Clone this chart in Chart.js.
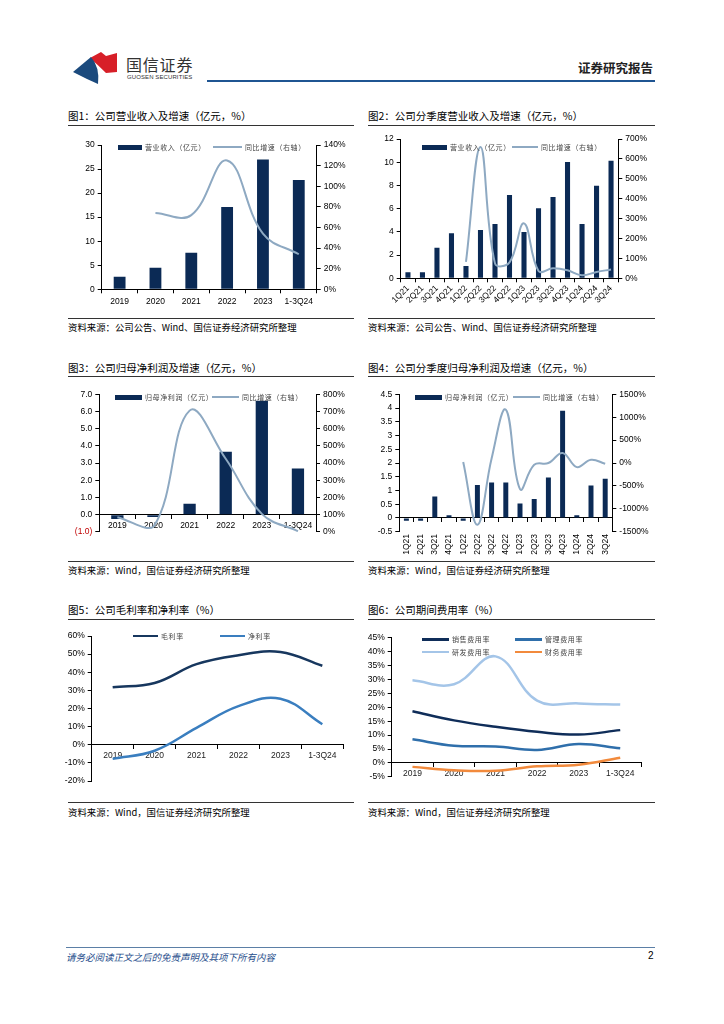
<!DOCTYPE html>
<html><head><meta charset="utf-8">
<script src="https://cdn.jsdelivr.net/npm/chart.js@4.4.1/dist/chart.umd.min.js"></script>
<style>
html,body{margin:0;padding:0;background:#fff}
body{width:724px;height:1024px;position:relative;overflow:hidden;font-family:"Noto Sans CJK SC","Noto Sans",sans-serif;color:#000}
.a{position:absolute;white-space:nowrap}
.title{font-size:10.5px;line-height:12px}
.src{font-size:9.4px;line-height:11px}
.rule{position:absolute;height:1px;background:#333}
.lgt{position:absolute;white-space:nowrap;font-size:7px;line-height:9px;color:#444;letter-spacing:0.6px}
canvas{position:absolute}
</style>
</head><body>

<!-- header -->
<svg class="a" style="left:60px;top:45px" width="70" height="45" viewBox="60 45 70 45">
  <path d="M90 58 L101 52 L106 56 L117 53 L117 72 L106 73 Q99 66 90 58 Z" fill="#d71f28"/>
  <path d="M73 72 L91 57 Q100 67 98 84 L87 79 Z" fill="#1b4a7d"/>
</svg>
<div class="a" style="left:126px;top:54px;font-size:16px;line-height:20px;color:#333;letter-spacing:0.8px">国信证券</div>
<div class="a" style="left:127px;top:74px;font-family:'Liberation Sans',Arial,sans-serif;font-size:6px;line-height:7px;color:#333;letter-spacing:0.1px">GUOSEN SECURITIES</div>
<div class="a" style="left:578px;top:60px;font-size:12.5px;line-height:15px;font-weight:bold;color:#222">证券研究报告</div>
<div class="a" style="left:207px;top:80px;width:448px;height:2px;background:#1f5592"></div>

<!-- chart 1 -->
<div class="a title" style="left:68px;top:110px">图1：公司营业收入及增速（亿元，%）</div>
<div class="rule" style="left:68px;top:125px;width:286px"></div>
<canvas id="c1" width="300" height="180" style="left:60px;top:135px;width:300px;height:180px"></canvas>
<div class="rule" style="left:68px;top:318px;width:286px"></div>
<div class="a src" style="left:68px;top:322px">资料来源：公司公告、Wind、国信证券经济研究所整理</div>

<!-- chart 2 -->
<div class="a title" style="left:368px;top:110px">图2：公司分季度营业收入及增速（亿元，%）</div>
<div class="rule" style="left:368px;top:125px;width:287px"></div>
<canvas id="c2" width="310" height="185" style="left:360px;top:130px;width:310px;height:185px"></canvas>
<div class="rule" style="left:368px;top:318px;width:287px"></div>
<div class="a src" style="left:368px;top:322px">资料来源：公司公告、Wind、国信证券经济研究所整理</div>

<!-- chart 3 -->
<div class="a title" style="left:68px;top:362px">图3：公司归母净利润及增速（亿元，%）</div>
<div class="rule" style="left:68px;top:376px;width:286px"></div>
<canvas id="c3" width="300" height="160" style="left:60px;top:380px;width:300px;height:160px"></canvas>
<div class="rule" style="left:68px;top:561px;width:286px"></div>
<div class="a src" style="left:68px;top:565px">资料来源：Wind，国信证券经济研究所整理</div>

<!-- chart 4 -->
<div class="a title" style="left:368px;top:362px">图4：公司分季度归母净利润及增速（亿元，%）</div>
<div class="rule" style="left:368px;top:376px;width:287px"></div>
<canvas id="c4" width="310" height="175" style="left:360px;top:380px;width:310px;height:175px"></canvas>
<div class="rule" style="left:368px;top:561px;width:287px"></div>
<div class="a src" style="left:368px;top:565px">资料来源：Wind，国信证券经济研究所整理</div>

<!-- chart 5 -->
<div class="a title" style="left:68px;top:604px">图5：公司毛利率和净利率（%）</div>
<div class="rule" style="left:68px;top:619px;width:286px"></div>
<canvas id="c5" width="300" height="165" style="left:60px;top:625px;width:300px;height:165px"></canvas>
<div class="rule" style="left:68px;top:802px;width:286px"></div>
<div class="a src" style="left:68px;top:807px">资料来源：Wind，国信证券经济研究所整理</div>

<!-- chart 6 -->
<div class="a title" style="left:368px;top:604px">图6：公司期间费用率（%）</div>
<div class="rule" style="left:368px;top:619px;width:287px"></div>
<canvas id="c6" width="310" height="160" style="left:360px;top:625px;width:310px;height:160px"></canvas>
<div class="rule" style="left:368px;top:802px;width:287px"></div>
<div class="a src" style="left:368px;top:807px">资料来源：Wind，国信证券经济研究所整理</div>

<!-- footer -->
<div class="a" style="left:66px;top:947px;width:589px;height:1px;background:#5b7fa6"></div>
<div class="a" style="left:66px;top:951px;font-size:9.5px;line-height:12px;font-style:italic;color:#1f4e8c">请务必阅读正文之后的免责声明及其项下所有内容</div>
<div class="a" style="left:648px;top:950px;font-family:'Liberation Sans',Arial,sans-serif;font-size:10px;line-height:12px;color:#000">2</div>

<div id="legends"></div>

<script>
// ---------- data ----------
const years = ['2019','2020','2021','2022','2023','1-3Q24'];
const quarters = ['1Q21','2Q21','3Q21','4Q21','1Q22','2Q22','3Q22','4Q22','1Q23','2Q23','3Q23','4Q23','1Q24','2Q24','3Q24'];

const revenue = [2.6, 4.5, 7.6, 17.1, 27.0, 22.7];
const revenueYoY = [null, 74, 72, 125, 54, 34];

const qRevenue = [0.52, 0.52, 2.64, 3.88, 1.06, 4.16, 4.68, 7.18, 3.99, 6.03, 7.0, 10.02, 4.68, 7.98, 10.13];
const qRevenueYoY = [null, null, null, null, 82, 660, 75, 80, 276, 37, 50, 40, 15, 32, 44];

const netProfit = [-0.25, -0.13, 0.64, 3.66, 6.63, 2.69];
const netProfitYoY = [85, 30, 705, 425, 105, 4];

const qNetProfit = [-0.1, -0.1, 0.78, 0.1, -0.1, 1.2, 1.29, 1.29, 0.53, 0.69, 1.47, 3.9, 0.1, 1.18, 1.43];
const qNetProfitYoY = [null, null, null, null, 20, -1350, 100, 1165, -570, -40, 0, 220, -90, 70, -15];

const grossMargin = [31.7, 34.1, 44.5, 49.4, 51.2, 43.6];
const netMargin = [-7.8, -3.3, 9.3, 21.3, 25.4, 11.3];

const sellingRate = [18.6, 15.3, 13.0, 11.2, 10.2, 11.8];
const adminRate = [8.5, 6.2, 5.9, 4.7, 6.8, 5.3];
const rdRate = [29.7, 28.3, 38.3, 22.4, 21.4, 21.0];
const financeRate = [-1.4, -2.6, -2.8, -1.2, -0.6, 1.9];

// ---------- style ----------
const NAVY = '#0b2a55';
const GROWTH = '#8ea9c2';
const AX = '#000';
Chart.defaults.font.family = '"Liberation Sans", Arial, sans-serif';
Chart.defaults.font.size = 8.5;
Chart.defaults.color = '#000';
Chart.defaults.animation = false;

function yAxis(pos, min, max, step, width, fmt, colorFn, extra) {
  const o = {
    type: 'linear', position: pos, min: min, max: max,
    ticks: {stepSize: step, callback: fmt, padding: 3, color: colorFn || '#000'},
    grid: {drawOnChartArea: false, drawTicks: true, tickLength: 4, color: AX},
    border: {display: true, color: AX, width: 1},
    afterFit: function(s){ s.width = width; }
  };
  return Object.assign(o, extra || {});
}
function xAxis(opts) {
  const o = {
    type: 'category', offset: true,
    grid: {offset: true, drawOnChartArea: false, drawTicks: true, tickLength: 4, color: AX},
    border: {display: true, color: AX, width: 1},
    ticks: {padding: opts.padding == null ? 3 : opts.padding, autoSkip: false,
            minRotation: opts.rot || 0, maxRotation: opts.rot || 0, color: opts.color || '#000'}
  };
  if (opts.position) o.position = opts.position;
  if (opts.height != null) o.afterFit = function(s){ s.height = opts.height; };
  return o;
}
const pct = v => v + '%';
const basePlugins = {legend: {display: false}, tooltip: {enabled: false}};

function barLine(id, labels, bars, line, barPct, xOpt, yL, yR, pad, lineW) {
  new Chart(document.getElementById(id), {
    data: {
      labels: labels,
      datasets: [
        {type: 'line', data: line, yAxisID: 'y1', borderColor: GROWTH, borderWidth: lineW || 2,
         pointRadius: 0, tension: 0.4, fill: false, order: 0},
        {type: 'bar', data: bars, yAxisID: 'y', backgroundColor: NAVY, borderWidth: 0,
         barPercentage: barPct, categoryPercentage: 1, order: 1}
      ]
    },
    options: {
      responsive: false, animation: false,
      layout: {padding: pad},
      plugins: basePlugins,
      scales: {x: xOpt, y: yL, y1: yR}
    }
  });
}

// chart 1
barLine('c1', years, revenue, revenueYoY, 0.33,
  xAxis({height: 25.7, padding: 3}),
  yAxis('left', 0, 30, 5, 41.7, v => v),
  yAxis('right', 0, 140, 20, 43.3, pct),
  {top: 10, left: 0, right: 0, bottom: 0});

// chart 2
barLine('c2', quarters, qRevenue, qRevenueYoY, 0.35,
  xAxis({height: 36.7, padding: 1, rot: 45}),
  yAxis('left', 0, 12, 2, 40.7, v => v),
  yAxis('right', 0, 700, 100, 51.7, pct),
  {top: 9, left: 0, right: 0, bottom: 0});

// chart 3
barLine('c3', years, netProfit, netProfitYoY, 0.34,
  xAxis({position: {y: 0}, padding: 2}),
  yAxis('left', -1, 7, 1, 39.3, v => v < 0 ? '(' + Math.abs(v).toFixed(1) + ')' : v.toFixed(1),
        ctx => (ctx.tick && ctx.tick.value < 0) ? '#c00000' : '#000'),
  yAxis('right', 0, 800, 100, 44, pct),
  {top: 14.3, left: 0, right: 0, bottom: 7.7});

// chart 4
barLine('c4', quarters, qNetProfit, qNetProfitYoY, 0.35,
  xAxis({position: {y: 0}, padding: 12, rot: 90}),
  yAxis('left', -0.5, 4.5, 0.5, 39.3, v => String(Math.round(v * 10) / 10)),
  yAxis('right', -1500, 1500, 500, 57.7, pct),
  {top: 14.3, left: 0, right: 0, bottom: 23.3});

// chart 5
new Chart(document.getElementById('c5'), {
  type: 'line',
  data: {
    labels: years,
    datasets: [
      {data: grossMargin, borderColor: '#17375e', borderWidth: 2.5, pointRadius: 0, tension: 0.4},
      {data: netMargin, borderColor: '#3a7ebf', borderWidth: 2.5, pointRadius: 0, tension: 0.4}
    ]
  },
  options: {
    responsive: false, animation: false,
    layout: {padding: {top: 11, right: 16.7, bottom: 9, left: 0}},
    plugins: basePlugins,
    scales: {
      x: xAxis({position: {y: 0}, padding: 2, color: '#222'}),
      y: yAxis('left', -20, 60, 10, 31.7, pct)
    }
  }
});

// chart 6
new Chart(document.getElementById('c6'), {
  type: 'line',
  data: {
    labels: years,
    datasets: [
      {data: sellingRate, borderColor: '#0f2d59', borderWidth: 2.5, pointRadius: 0, tension: 0.4},
      {data: adminRate, borderColor: '#2f6fab', borderWidth: 2.5, pointRadius: 0, tension: 0.4},
      {data: rdRate, borderColor: '#a4c5e8', borderWidth: 2.5, pointRadius: 0, tension: 0.4},
      {data: financeRate, borderColor: '#f28a3c', borderWidth: 2.5, pointRadius: 0, tension: 0.4}
    ]
  },
  options: {
    responsive: false, animation: false,
    layout: {padding: {top: 12.7, right: 29, bottom: 6, left: 0}},
    plugins: basePlugins,
    scales: {
      x: xAxis({position: {y: 0}, padding: 2, color: '#222'}),
      y: yAxis('left', -5, 45, 5, 31.7, pct)
    }
  }
});

// ---------- HTML legends ----------
const L = document.getElementById('legends');
function item(x, y, kind, color, text, w) {
  const sw = document.createElement('div');
  sw.className = 'a';
  const h = kind === 'bar' ? 5 : (kind === 'thick' ? 2.5 : 2);
  sw.style.cssText = `left:${x}px;top:${y - h / 2}px;width:${w}px;height:${h}px;background:${color}`;
  L.appendChild(sw);
  const t = document.createElement('div');
  t.className = 'lgt';
  t.textContent = text;
  t.style.left = (x + w + 3) + 'px';
  t.style.top = (y - 4.5) + 'px';
  L.appendChild(t);
}
item(118, 147, 'bar', NAVY, '营业收入（亿元）', 24);
item(213, 147, 'line', GROWTH, '同比增速（右轴）', 29);
item(422, 147, 'bar', NAVY, '营业收入（亿元）', 25);
item(512, 147, 'line', GROWTH, '同比增速（右轴）', 26);
item(115, 397, 'bar', NAVY, '归母净利润（亿元）', 27);
item(212, 397, 'line', GROWTH, '同比增速（右轴）', 27);
item(415, 397, 'bar', NAVY, '归母净利润（亿元）', 27);
item(513, 397, 'line', GROWTH, '同比增速（右轴）', 27);
item(133, 636, 'thick', '#17375e', '毛利率', 25);
item(220, 636, 'thick', '#3a7ebf', '净利率', 25);
item(422, 639.5, 'thick', '#0f2d59', '销售费用率', 27);
item(515, 639.5, 'thick', '#2f6fab', '管理费用率', 27);
item(422, 652, 'thick', '#a4c5e8', '研发费用率', 27);
item(515, 652, 'thick', '#f28a3c', '财务费用率', 27);
</script>
</body></html>
